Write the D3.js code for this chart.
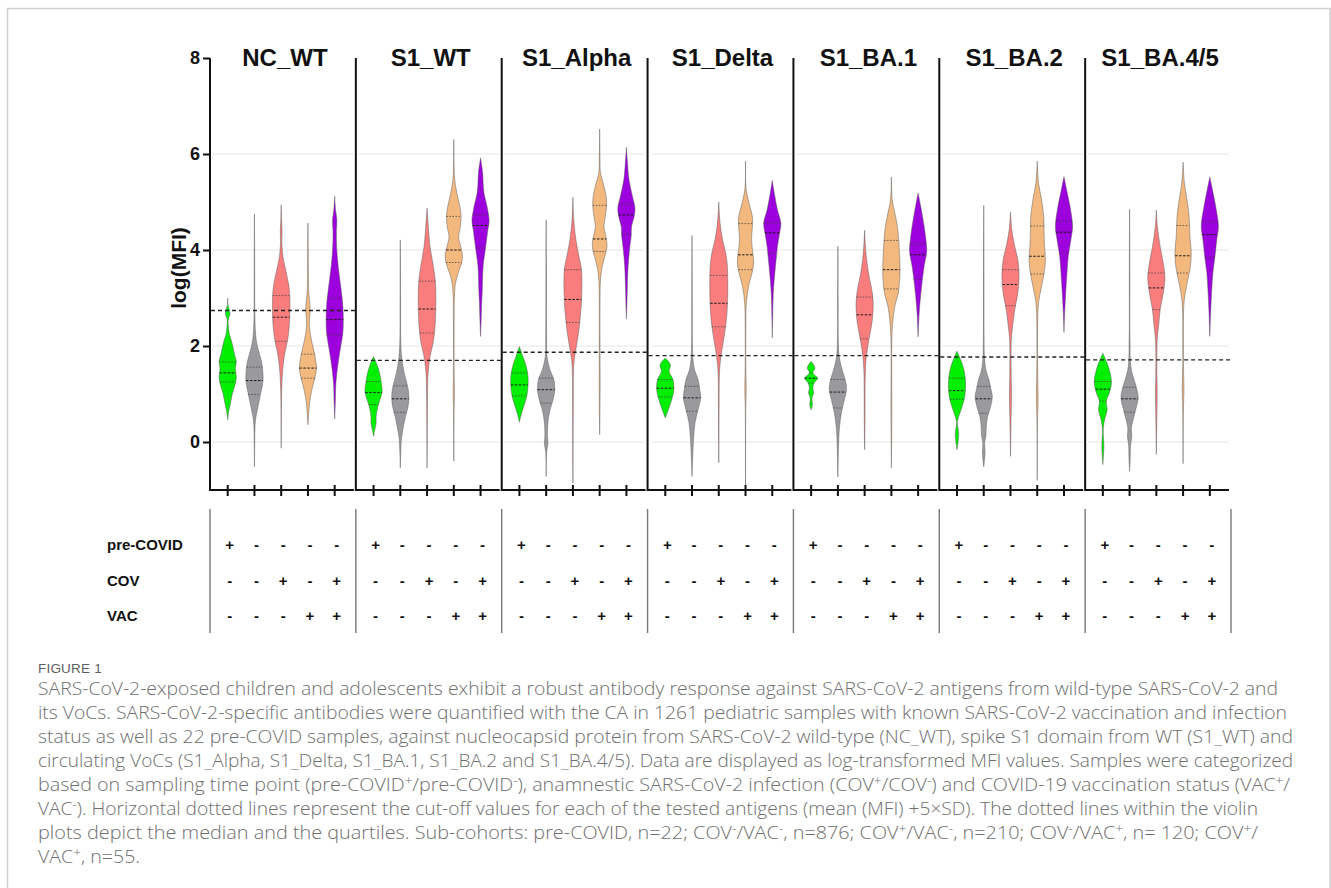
<!DOCTYPE html>
<html><head><meta charset="utf-8">
<script src="https://cdn.jsdelivr.net/npm/d3@7"></script>
<style>body{margin:0;background:#fff}svg{display:block}</style>
</head><body>
<svg id="c" width="1331" height="888"></svg>
<script>
// ---------- data ----------
const panels = ["NC_WT","S1_WT","S1_Alpha","S1_Delta","S1_BA.1","S1_BA.2","S1_BA.4/5"];
const groups = ["preCOVID","COV-VAC-","COV+VAC-","COV-VAC+","COV+VAC+"];
const groupColors = ["#00ee00","#9a9a9e","#fa7d7d","#f3b87e","#9c00dc"];
const cutoffs = [2.74, 1.70, 1.87, 1.80, 1.80, 1.77, 1.71];
const yTicks = [0, 2, 4, 6, 8];
const rowLabels = ["pre-COVID","COV","VAC"];
const preCovidSigns = ["+","-","-","-","-"];
const covSigns = ["-","-","+","-","+"];
const vacSigns = ["-","-","-","+","+"];

// violin profiles: q = [Q1, median, Q3]; p = [value, relative density] from top to bottom
const ncWT = [
 {q:[1.25,1.44,1.67], p:[[3.0,0],[2.85,0.04],[2.72,0.24],[2.66,0.26],[2.58,0.1],[2.5,0.05],[2.38,0.1],[2.24,0.2],[2.13,0.4],[1.99,0.6],[1.82,0.8],[1.68,1.0],[1.54,0.9],[1.44,0.95],[1.33,1.0],[1.16,0.8],[1.02,0.56],[0.88,0.4],[0.74,0.24],[0.64,0.12],[0.46,0]]},
 {q:[0.99,1.28,1.56], p:[[4.75,0],[4.0,0.02],[3.0,0.03],[2.6,0.05],[2.34,0.1],[2.13,0.2],[1.99,0.35],[1.82,0.6],[1.65,0.85],[1.47,0.97],[1.3,1.0],[1.16,0.9],[0.99,0.7],[0.81,0.5],[0.64,0.3],[0.46,0.12],[0.26,0.05],[0.0,0.03],[-0.52,0]]},
 {q:[2.1,2.6,3.05], p:[[4.94,0],[4.6,0.05],[4.4,0.1],[4.2,0.08],[3.87,0.2],[3.52,0.6],[3.24,0.9],[3.03,1.0],[2.62,1.0],[2.34,0.9],[2.13,0.75],[1.92,0.5],[1.71,0.3],[1.44,0.15],[1.09,0.06],[0.74,0.03],[-0.13,0]]},
 {q:[1.33,1.54,1.83], p:[[4.56,0],[4.0,0.03],[3.52,0.05],[3.1,0.1],[2.9,0.22],[2.72,0.25],[2.46,0.15],[2.13,0.4],[1.85,0.75],[1.64,0.95],[1.54,1.0],[1.37,0.85],[1.16,0.55],[0.95,0.3],[0.74,0.15],[0.53,0.06],[0.36,0]]},
 {q:[2.23,2.55,3.0], p:[[5.12,0],[4.84,0.1],[4.63,0.25],[4.4,0.2],[4.21,0.2],[3.87,0.3],[3.52,0.5],[3.17,0.75],[2.83,0.95],[2.55,1.0],[2.27,0.95],[1.99,0.7],[1.71,0.45],[1.44,0.25],[1.16,0.12],[0.88,0.08],[0.67,0.04],[0.48,0]]}
];
const s1WT = [
 {q:[0.78,1.03,1.26], p:[[1.78,0],[1.61,0.4],[1.44,0.7],[1.23,0.9],[1.05,1.0],[0.88,0.75],[0.74,0.5],[0.53,0.3],[0.4,0.3],[0.26,0.15],[0.12,0]]},
 {q:[0.62,0.9,1.17], p:[[4.21,0],[3.0,0.03],[2.13,0.05],[1.78,0.15],[1.44,0.45],[1.16,0.85],[0.95,1.0],[0.74,0.9],[0.53,0.6],[0.26,0.3],[0.05,0.12],[-0.23,0.05],[-0.54,0]]},
 {q:[2.27,2.77,3.35], p:[[4.87,0],[4.49,0.15],[4.07,0.35],[3.8,0.6],[3.52,0.85],[3.24,1.0],[2.69,1.0],[2.34,0.9],[2.06,0.7],[1.78,0.35],[1.44,0.12],[1.09,0.06],[0.4,0.03],[-0.54,0]]},
 {q:[3.74,4.0,4.7], p:[[6.3,0],[5.8,0.03],[5.47,0.1],[5.19,0.35],[4.91,0.7],[4.7,0.85],[4.42,0.7],[4.28,0.55],[4.07,0.8],[3.9,1.0],[3.73,0.9],[3.52,0.5],[3.31,0.2],[3.03,0.07],[2.48,0.04],[1.5,0.04],[1.02,0.07],[0.6,0.03],[-0.4,0]]},
 {q:[4.04,4.51,4.73], p:[[5.92,0],[5.6,0.25],[5.4,0.3],[5.19,0.4],[4.91,0.75],[4.6,1.0],[4.42,0.85],[4.21,0.7],[3.94,0.5],[3.66,0.3],[3.17,0.2],[2.83,0.12],[2.48,0.06],[2.2,0]]}
];
const s1Alpha = [
 {q:[0.96,1.19,1.44], p:[[1.99,0],[1.78,0.4],[1.57,0.8],[1.37,1.0],[1.16,1.0],[0.95,0.85],[0.74,0.5],[0.6,0.25],[0.41,0]]},
 {q:[0.81,1.09,1.33], p:[[4.63,0],[3.5,0.03],[2.2,0.05],[1.78,0.1],[1.5,0.45],[1.3,0.9],[1.09,1.0],[0.88,0.8],[0.67,0.45],[0.4,0.2],[0.12,0.15],[-0.02,0.2],[-0.23,0.05],[-0.72,0]]},
 {q:[2.49,2.97,3.59], p:[[5.1,0],[4.63,0.1],[4.21,0.35],[3.87,0.7],[3.59,1.0],[2.96,1.0],[2.69,0.9],[2.34,0.7],[1.99,0.4],[1.71,0.15],[1.44,0.06],[0.74,0.04],[-0.86,0]]},
 {q:[3.97,4.23,4.93], p:[[6.52,0],[5.9,0.04],[5.6,0.1],[5.4,0.4],[5.12,0.75],[4.91,0.8],[4.63,0.6],[4.49,0.5],[4.21,0.8],[4.07,0.85],[3.87,0.6],[3.66,0.3],[3.38,0.1],[2.83,0.04],[1.09,0.05],[0.15,0]]},
 {q:[4.33,4.73,4.96], p:[[6.14,0],[5.88,0.1],[5.47,0.3],[5.12,0.7],[4.87,1.0],[4.7,0.9],[4.49,0.6],[4.28,0.55],[4.07,0.4],[3.66,0.2],[3.17,0.1],[2.83,0.05],[2.56,0]]}
];
const s1Delta = [
 {q:[0.94,1.12,1.3], p:[[1.75,0],[1.61,0.6],[1.47,0.45],[1.3,0.9],[1.09,1.0],[0.88,0.75],[0.67,0.35],[0.5,0]]},
 {q:[0.64,0.92,1.16], p:[[4.3,0],[3.0,0.03],[2.0,0.05],[1.71,0.12],[1.5,0.3],[1.3,0.7],[1.09,0.9],[0.92,1.0],[0.67,0.7],[0.4,0.35],[0.12,0.2],[-0.23,0.1],[-0.72,0]]},
 {q:[2.4,2.89,3.47], p:[[5.0,0],[4.56,0.15],[4.21,0.45],[3.94,0.8],[3.66,1.0],[2.83,1.0],[2.41,0.8],[2.06,0.5],[1.78,0.25],[1.44,0.08],[0.74,0.04],[-0.43,0]]},
 {q:[3.59,3.9,4.55], p:[[5.85,0],[5.26,0.08],[4.91,0.5],[4.7,0.8],[4.49,0.8],[4.21,0.7],[3.94,0.85],[3.73,0.95],[3.52,0.75],[3.24,0.35],[2.9,0.1],[2.48,0.04],[1.5,0.04],[1.09,0.08],[0.7,0.03],[-0.95,0]]},
 {q:[3.94,4.36,4.56], p:[[5.45,0],[5.12,0.3],[4.84,0.6],[4.56,1.0],[4.35,0.85],[4.07,0.6],[3.8,0.45],[3.52,0.3],[3.1,0.12],[2.62,0.05],[2.17,0]]}
];
const s1BA1 = [
 {q:[1.23,1.33,1.44], p:[[1.68,0],[1.54,0.45],[1.44,0.2],[1.33,0.75],[1.23,0.35],[1.12,0.2],[1.02,0.3],[0.92,0.1],[0.77,0.15],[0.67,0]]},
 {q:[0.71,1.04,1.3], p:[[4.08,0],[3.0,0.03],[2.1,0.05],[1.78,0.15],[1.5,0.5],[1.3,0.85],[1.09,1.0],[0.88,0.75],[0.6,0.4],[0.33,0.2],[0.05,0.1],[-0.73,0]]},
 {q:[2.15,2.65,3.02], p:[[4.41,0],[3.94,0.15],[3.52,0.45],[3.1,0.9],[2.83,1.0],[2.48,0.85],[2.13,0.5],[1.78,0.2],[1.44,0.08],[0.4,0.04],[-0.16,0]]},
 {q:[3.19,3.59,4.2], p:[[5.52,0],[5.05,0.1],[4.77,0.4],[4.49,0.7],[4.07,0.9],[3.52,1.0],[3.1,0.8],[2.83,0.4],[2.48,0.15],[2.13,0.05],[0.53,0.05],[-0.54,0]]},
 {q:[3.39,3.9,4.13], p:[[5.19,0],[4.91,0.3],[4.49,0.7],[4.14,0.95],[3.97,1.0],[3.66,0.7],[3.31,0.45],[2.97,0.25],[2.62,0.1],[2.19,0]]}
];
const s1BA2 = [
 {q:[0.89,1.07,1.33], p:[[1.89,0],[1.68,0.5],[1.47,0.85],[1.23,1.0],[0.95,0.9],[0.74,0.6],[0.53,0.2],[0.4,0.05],[0.16,0.2],[-0.16,0]]},
 {q:[0.6,0.9,1.16], p:[[4.93,0],[3.5,0.03],[2.2,0.04],[1.78,0.08],[1.5,0.25],[1.3,0.6],[1.09,0.85],[0.95,1.0],[0.74,0.8],[0.53,0.45],[0.33,0.3],[0.12,0.25],[-0.02,0.1],[-0.23,0.15],[-0.52,0]]},
 {q:[2.84,3.28,3.59], p:[[4.79,0],[4.42,0.15],[4.07,0.5],[3.8,0.85],[3.45,1.0],[3.1,0.85],[2.76,0.5],[2.48,0.3],[2.13,0.1],[1.44,0.08],[1.02,0.12],[0.4,0.06],[-0.3,0]]},
 {q:[3.5,3.87,4.5], p:[[5.85,0],[5.4,0.15],[5.05,0.5],[4.7,0.75],[4.35,0.8],[4.07,0.85],[3.8,0.95],[3.52,0.8],[3.24,0.5],[2.9,0.15],[2.48,0.05],[1.5,0.05],[0.88,0.1],[0.4,0.03],[-0.8,0]]},
 {q:[3.94,4.37,4.6], p:[[5.53,0],[5.26,0.3],[4.91,0.7],[4.49,1.0],[4.21,0.8],[3.87,0.5],[3.52,0.35],[3.1,0.2],[2.69,0.08],[2.28,0]]}
];
const s1BA45 = [
 {q:[0.85,1.1,1.26], p:[[1.85,0],[1.64,0.5],[1.44,0.85],[1.23,1.0],[1.02,0.75],[0.85,0.4],[0.67,0.5],[0.46,0.2],[0.26,0.05],[-0.09,0.12],[-0.47,0]]},
 {q:[0.62,0.9,1.14], p:[[4.85,0],[3.5,0.03],[2.2,0.04],[1.57,0.15],[1.37,0.4],[1.16,0.75],[0.92,1.0],[0.67,0.7],[0.46,0.4],[0.29,0.2],[0.12,0.25],[-0.09,0.1],[-0.3,0.08],[-0.61,0]]},
 {q:[2.76,3.21,3.52], p:[[4.83,0],[4.49,0.12],[4.07,0.45],[3.73,0.8],[3.42,1.0],[3.1,0.8],[2.76,0.45],[2.48,0.3],[2.13,0.1],[1.44,0.06],[1.09,0.1],[0.4,0.05],[-0.26,0]]},
 {q:[3.52,3.88,4.51], p:[[5.83,0],[5.4,0.15],[5.05,0.45],[4.7,0.7],[4.28,0.8],[3.94,0.95],[3.66,0.85],[3.38,0.55],[3.1,0.25],[2.83,0.08],[1.8,0.04],[1.44,0.06],[1.09,0.1],[0.6,0.03],[-0.45,0]]},
 {q:[3.84,4.32,4.58], p:[[5.52,0],[5.26,0.3],[4.84,0.75],[4.49,1.0],[4.21,0.8],[3.87,0.6],[3.52,0.35],[3.1,0.2],[2.62,0.08],[2.2,0]]}
];
const violins = [ncWT, s1WT, s1Alpha, s1Delta, s1BA1, s1BA2, s1BA45];

const captionTitle = "FIGURE 1";
const captionLines = [
 "SARS-CoV-2-exposed children and adolescents exhibit a robust antibody response against SARS-CoV-2 antigens from wild-type SARS-CoV-2 and",
 "its VoCs. SARS-CoV-2-specific antibodies were quantified with the CA in 1261 pediatric samples with known SARS-CoV-2 vaccination and infection",
 "status as well as 22 pre-COVID samples, against nucleocapsid protein from SARS-CoV-2 wild-type (NC_WT), spike S1 domain from WT (S1_WT) and",
 "circulating VoCs (S1_Alpha, S1_Delta, S1_BA.1, S1_BA.2 and S1_BA.4/5). Data are displayed as log-transformed MFI values. Samples were categorized",
 "based on sampling time point (pre-COVID^+/pre-COVID^-), anamnestic SARS-CoV-2 infection (COV^+/COV^-) and COVID-19 vaccination status (VAC^+/",
 "VAC^-). Horizontal dotted lines represent the cut-off values for each of the tested antigens (mean (MFI) +5\u00d7SD). The dotted lines within the violin",
 "plots depict the median and the quartiles. Sub-cohorts: pre-COVID, n=22; COV^-/VAC^-, n=876; COV^+/VAC^-, n=210; COV^-/VAC^+, n= 120; COV^+/",
 "VAC^+, n=55."
];
const captionLineEnds = [1278, 1287, 1293, 1293, 1290, 1258, 1258, 140];

// ---------- layout ----------
const svg = d3.select("#c");
const plotTop = 58, plotBottom = 490;
const y = d3.scaleLinear().domain([-1, 8]).range([plotBottom, plotTop]);
const px = d3.scaleBand().domain(panels).range([210, 1231]).paddingInner(0).paddingOuter(0);
const step = px.bandwidth();
const halfW = 8.6;
const font = "'Liberation Sans', Arial, Helvetica, sans-serif";

// frame
svg.append("rect").attr("x", 7.5).attr("y", 8.5).attr("width", 1322.5).attr("height", 900)
  .attr("fill", "none").attr("stroke", "#cfcfcf").attr("stroke-width", 1.5);

function widthAt(p, v) {
  for (let i = 0; i < p.length - 1; i++) {
    const a = p[i], b = p[i + 1];
    if (v <= a[0] && v >= b[0]) {
      const t = (a[0] - v) / (a[0] - b[0]);
      return a[1] + t * (b[1] - a[1]);
    }
  }
  return 0;
}

panels.forEach((name, pi) => {
  const x0 = px(name);
  const g = svg.append("g");
  const xs = d3.scalePoint().domain(groups).range([x0 + 17.7, x0 + 124.7]);

  // gridlines
  g.selectAll("line.grid").data(yTicks.filter(t => t < 8)).join("line")
    .attr("x1", x0 + 3).attr("x2", x0 + step - 2)
    .attr("y1", d => y(d)).attr("y2", d => y(d))
    .attr("stroke", "#e6e6e6").attr("stroke-width", 1);

  // violins
  const area = d3.area().curve(d3.curveCatmullRom.alpha(0.5));
  violins[pi].forEach((vd, gi) => {
    const cx = xs(groups[gi]);
    area.y(d => y(d[0])).x0(d => cx - Math.max(d[1], 0) * halfW).x1(d => cx + Math.max(d[1], 0) * halfW);
    g.append("path").attr("d", area(vd.p))
      .attr("fill", groupColors[gi])
      .attr("stroke", "#5a5a5a").attr("stroke-opacity", 0.8).attr("stroke-width", 0.6);
    vd.q.forEach((qv, qi) => {
      const w = widthAt(vd.p, qv) * halfW;
      g.append("line").attr("x1", cx - w).attr("x2", cx + w)
        .attr("y1", y(qv)).attr("y2", y(qv))
        .attr("stroke", qi === 1 ? "#1a1a1a" : "#444")
        .attr("stroke-width", qi === 1 ? 1 : 0.8)
        .attr("stroke-dasharray", qi === 1 ? "2.5,1.5" : "1.5,1.5");
    });
  });

  // cutoff
  g.append("line").attr("x1", x0 + 1).attr("x2", x0 + step)
    .attr("y1", y(cutoffs[pi])).attr("y2", y(cutoffs[pi]))
    .attr("stroke", "#222").attr("stroke-width", 1.4).attr("stroke-dasharray", "4,3");

  // panel frame: left vertical + bottom axis
  g.append("line").attr("x1", x0).attr("x2", x0).attr("y1", plotTop).attr("y2", plotBottom + 1)
    .attr("stroke", "#111").attr("stroke-width", 2);
  g.append("line").attr("x1", x0).attr("x2", x0 + step - 2).attr("y1", plotBottom).attr("y2", plotBottom)
    .attr("stroke", "#111").attr("stroke-width", 2.2);
  g.selectAll("line.tk").data(groups).join("line")
    .attr("x1", d => xs(d)).attr("x2", d => xs(d))
    .attr("y1", plotBottom - 5).attr("y2", plotBottom + 6)
    .attr("stroke", "#111").attr("stroke-width", 2);

  // title
  g.append("text").attr("x", x0 + step / 2 + 2).attr("y", 66)
    .attr("text-anchor", "middle").attr("font-family", font).attr("font-weight", "bold")
    .attr("font-size", 24).attr("fill", "#111").text(name);

  // table separators
  g.append("line").attr("x1", x0).attr("x2", x0).attr("y1", 509).attr("y2", 633)
    .attr("stroke", "#777").attr("stroke-width", 1.4);

  // table signs
  [preCovidSigns, covSigns, vacSigns].forEach((signs, ri) => {
    g.selectAll(null).data(signs).join("text")
      .attr("x", (d, i) => xs(groups[i]) + 2)
      .attr("y", 550 + ri * 35.5)
      .attr("text-anchor", "middle").attr("font-family", font).attr("font-weight", "bold")
      .attr("font-size", 15).attr("fill", "#111").text(d => d);
  });
});
// last table separator
svg.append("line").attr("x1", 1231).attr("x2", 1231).attr("y1", 509).attr("y2", 633)
  .attr("stroke", "#777").attr("stroke-width", 1.4);

// y axis
const yAxis = svg.append("g").attr("transform", "translate(210,0)")
  .call(d3.axisLeft(y).tickValues(yTicks).tickSize(7).tickSizeOuter(0).tickPadding(3));
yAxis.select(".domain").remove();
yAxis.selectAll(".tick line").attr("stroke", "#111").attr("stroke-width", 2);
yAxis.selectAll(".tick text").attr("font-family", font).attr("font-weight", "bold")
  .attr("font-size", 18).attr("fill", "#111");

svg.append("text").attr("transform", "translate(186," + 268 + ") rotate(-90)")
  .attr("text-anchor", "middle").attr("font-family", font).attr("font-weight", "bold")
  .attr("font-size", 21).attr("fill", "#111").text("log(MFI)");

// row labels
rowLabels.forEach((l, i) => {
  svg.append("text").attr("x", 107).attr("y", 550 + i * 35.5)
    .attr("font-family", font).attr("font-weight", "bold").attr("font-size", 15)
    .attr("fill", "#111").text(l);
});

// caption
const capFont = "'Open Sans', 'Noto Sans', sans-serif";
svg.append("text").attr("x", 38).attr("y", 673)
  .attr("font-family", font).attr("font-size", 13.5).attr("fill", "#5e5e5e")
  .attr("letter-spacing", 0.2).text(captionTitle);

captionLines.forEach((line, i) => {
  const t = svg.append("text").attr("x", 38).attr("y", 695 + i * 24)
    .attr("font-family", capFont).attr("font-weight", 300).attr("font-size", 17.5).attr("fill", "#6e6e6e");
  const parts = line.split(/(\^[+-])/);
  let sup = false;
  parts.forEach(part => {
    if (!part) return;
    if (part[0] === "^") {
      t.append("tspan").attr("dy", sup ? 0 : -6).attr("font-size", 12).text(part[1] === "+" ? "+" : "-");
      sup = true;
    } else {
      const ts = t.append("tspan").text(part);
      if (sup) { ts.attr("dy", 6); sup = false; }
    }
  });
  t.attr("textLength", captionLineEnds[i] - 38).attr("lengthAdjust", "spacingAndGlyphs");
});
</script>
</body></html>
